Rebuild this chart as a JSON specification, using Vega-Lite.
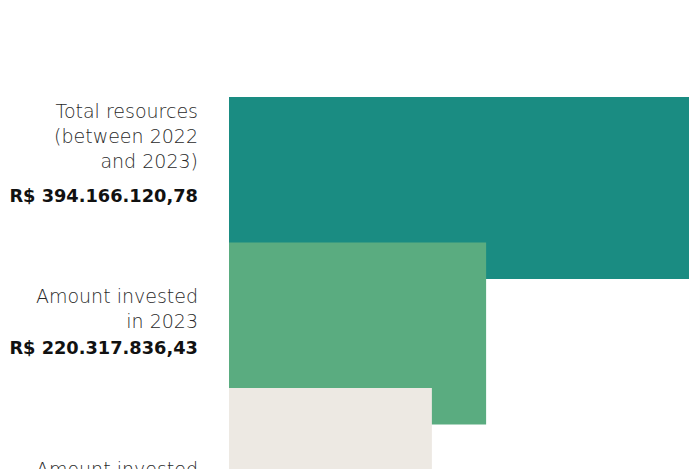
{
  "$schema": "https://vega.github.io/schema/vega-lite/v6.json",
  "autosize": {"type": "none"},
  "padding": {"left": 229, "top": 0, "right": 0, "bottom": 0},
  "width": 460,
  "height": 469,
  "background": "#ffffff",
  "config": {"view": {"stroke": null}},
  "data": {
    "values": [
      {"rank": 0, "item": "total", "nlines": 3, "label": "Total resources\u00a0\n(between 2022\nand 2023)", "amount": "R$ 394.166.120,78", "value": 394166120.78},
      {"rank": 1, "item": "2023", "nlines": 2, "label": "Amount invested\u00a0\nin 2023", "amount": "R$ 220.317.836,43", "value": 220317836.43},
      {"rank": 2, "item": "2022", "nlines": 2, "label": "Amount invested\nin 2022", "amount": "R$ 173.848.284,35", "value": 173848284.35}
    ]
  },
  "layer": [
    {
      "mark": {"type": "bar", "orient": "horizontal", "height": 182},
      "encoding": {
        "x": {"field": "value", "type": "quantitative", "axis": null, "scale": {"domain": [0, 394166120.78], "nice": false, "zero": true, "padding": 0}},
        "y": {"field": "rank", "type": "quantitative", "axis": null, "scale": {"domain": [-1.2921, 1.9313], "reverse": true, "nice": false, "zero": false, "padding": 0}},
        "color": {"field": "item", "type": "nominal", "legend": null, "scale": {"domain": ["total", "2023", "2022"], "range": ["#1a8c82", "#5aac80", "#ede9e3"]}}
      }
    },
    {
      "transform": [{"filter": "datum.nlines == 3"}],
      "mark": {"type": "text", "align": "right", "baseline": "alphabetic", "dx": -31, "dy": -24.8, "lineBreak": "\n", "lineHeight": 24.8, "font": "DejaVu Sans", "fontWeight": 200, "fontSize": 19, "color": "#2a2a2a"},
      "encoding": {
        "x": {"datum": 0, "type": "quantitative"},
        "y": {"field": "rank", "type": "quantitative", "axis": null, "scale": {"domain": [-0.82899, 1.88986], "reverse": true, "nice": false, "zero": false}},
        "text": {"field": "label", "type": "nominal"}
      }
    },
    {
      "transform": [{"filter": "datum.nlines == 2"}],
      "mark": {"type": "text", "align": "right", "baseline": "alphabetic", "dx": -31, "dy": -12.4, "lineBreak": "\n", "lineHeight": 24.8, "font": "DejaVu Sans", "fontWeight": 200, "fontSize": 19, "color": "#2a2a2a"},
      "encoding": {
        "x": {"datum": 0, "type": "quantitative"},
        "y": {"field": "rank", "type": "quantitative", "axis": null, "scale": {"domain": [-0.82899, 1.88986], "reverse": true, "nice": false, "zero": false}},
        "text": {"field": "label", "type": "nominal"}
      }
    },
    {
      "transform": [{"filter": "datum.nlines == 3"}],
      "mark": {"type": "text", "align": "right", "baseline": "alphabetic", "dx": -31, "dy": 58.7, "font": "DejaVu Sans", "fontWeight": 700, "fontSize": 17.8, "color": "#111111"},
      "encoding": {
        "x": {"datum": 0, "type": "quantitative"},
        "y": {"field": "rank", "type": "quantitative", "axis": null, "scale": {"domain": [-0.82899, 1.88986], "reverse": true, "nice": false, "zero": false}},
        "text": {"field": "amount", "type": "nominal"}
      }
    },
    {
      "transform": [{"filter": "datum.nlines == 2"}],
      "mark": {"type": "text", "align": "right", "baseline": "alphabetic", "dx": -31, "dy": 38.5, "font": "DejaVu Sans", "fontWeight": 700, "fontSize": 17.8, "color": "#111111"},
      "encoding": {
        "x": {"datum": 0, "type": "quantitative"},
        "y": {"field": "rank", "type": "quantitative", "axis": null, "scale": {"domain": [-0.82899, 1.88986], "reverse": true, "nice": false, "zero": false}},
        "text": {"field": "amount", "type": "nominal"}
      }
    }
  ],
  "resolve": {"scale": {"y": "independent"}}
}
